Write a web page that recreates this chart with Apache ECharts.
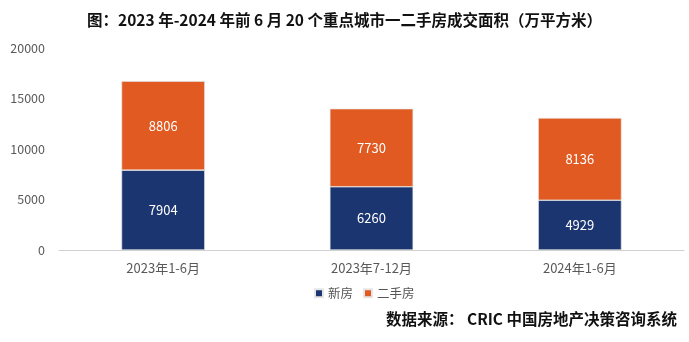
<!DOCTYPE html>
<html>
<head>
<meta charset="utf-8">
<script src="https://cdn.jsdelivr.net/npm/echarts@6/dist/echarts.min.js"></script>
<style>
  html, body { margin: 0; padding: 0; background: #fff; }
  #chart { width: 689px; height: 342px; }
</style>
</head>
<body>
<div id="chart"></div>
<script>
// 20个重点城市一二手房成交面积（万平方米）
const categories = ['2023年1-6月', '2023年7-12月', '2024年1-6月'];
const newHomes = [7904, 6260, 4929];
const resaleHomes = [8806, 7730, 8136];
const yTicks = [0, 5000, 10000, 15000, 20000];

const font = '"Noto Sans CJK SC", "Microsoft YaHei", sans-serif';
const chart = echarts.init(document.getElementById('chart'));

chart.setOption({
  backgroundColor: '#ffffff',
  textStyle: { fontFamily: font },
  title: [
    {
      text: '图：2023 年-2024 年前 6 月 20 个重点城市一二手房成交面积（万平方米）',
      left: 'center',
      top: 7,
      textStyle: { fontSize: 15.5, fontWeight: 'bold', color: '#111', fontFamily: font }
    },
    {
      text: '数据来源： CRIC 中国房地产决策咨询系统',
      right: 7,
      top: 306,
      textStyle: { fontSize: 15.5, fontWeight: 'bold', color: '#111', fontFamily: font }
    }
  ],
  legend: {
    data: ['新房', '二手房'],
    left: 309,
    top: 282,
    itemWidth: 8,
    itemHeight: 8,
    itemGap: 10,
    icon: 'rect',
    textStyle: { fontSize: 12.5, color: '#555', fontFamily: font }
  },
  grid: { left: 59, right: 5, top: 48, bottom: 92 },
  xAxis: {
    type: 'category',
    data: categories,
    axisLine: { lineStyle: { color: '#d0d0d0' } },
    axisTick: { show: false },
    axisLabel: { fontSize: 13, color: '#595959', margin: 12, fontFamily: font }
  },
  yAxis: {
    type: 'value',
    min: yTicks[0],
    max: yTicks[yTicks.length - 1],
    interval: 5000,
    splitLine: { show: false },
    axisLine: { show: false },
    axisTick: { show: false },
    axisLabel: {
      fontSize: 12.5, color: '#595959', margin: 14, fontFamily: font,
      formatter: (v) => String(v)
    }
  },
  series: [
    {
      name: '新房',
      type: 'bar',
      stack: 'total',
      data: newHomes,
      barWidth: '40%',
      itemStyle: { color: '#1b3571', borderColor: '#e6e6e6', borderWidth: 0.6 },
      label: { show: true, position: 'inside', color: '#fff', fontSize: 13, fontFamily: font }
    },
    {
      name: '二手房',
      type: 'bar',
      stack: 'total',
      data: resaleHomes,
      barWidth: '40%',
      itemStyle: { color: '#e05a22', borderColor: '#e6e6e6', borderWidth: 0.6 },
      label: { show: true, position: 'inside', color: '#fff', fontSize: 13, fontFamily: font }
    }
  ]
});
</script>
</body>
</html>
